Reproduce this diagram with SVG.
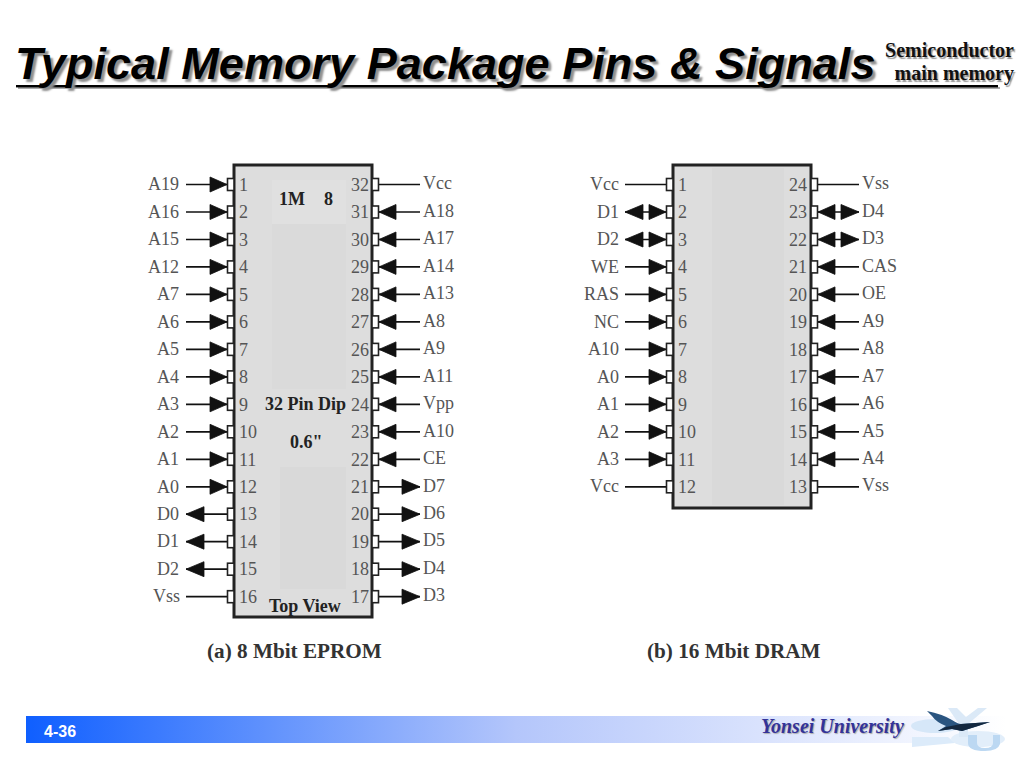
<svg xmlns="http://www.w3.org/2000/svg" xmlns:xlink="http://www.w3.org/1999/xlink" width="1024" height="768" viewBox="0 0 1024 768">
<style>
.title{font:italic bold 45.100px "Liberation Sans",Arial,sans-serif;fill:#000;text-shadow:3px 3px 2px #8f8f8f}
.sub{font:bold 20px "Liberation Serif","Times New Roman",serif;text-anchor:end;fill:#111;text-shadow:1.500px 1.500px 1px #999}
.l{font:18px "Liberation Serif","Times New Roman",serif;fill:#555}
.e{text-anchor:end}
.b{font:bold 18px "Liberation Serif","Times New Roman",serif;fill:#222}
.cap{font:bold 21.200px "Liberation Serif","Times New Roman",serif;fill:#333}
.w{stroke:#111;stroke-width:1.7;fill:none}
.p{stroke:#222;stroke-width:1.6;fill:#fff}
.h{fill:#111;stroke:#111;stroke-width:.8}
.chip{stroke:#222;stroke-width:3}
</style>
<defs>
<linearGradient id="bar" x1="0" x2="1" y1="0" y2="0"><stop offset="0" stop-color="#0f5fff"/><stop offset="0.5" stop-color="#b4c6fb"/><stop offset="1" stop-color="#ffffff"/></linearGradient>
<g id="L"><line class="w" x1="-48" x2="-6" y1="0" y2="0"/><rect class="p" x="-6.5" y="-6" width="6.5" height="12"/></g>
<g id="R"><line class="w" x1="6" x2="48" y1="0" y2="0"/><rect class="p" x="0" y="-6" width="6.5" height="12"/></g>
<polygon id="LI" class="h" points="-24,-7.500 -24,7.500 -7,0"/>
<polygon id="LO" class="h" points="-48,0 -30,-7.500 -30,7.500"/>
<polygon id="RI" class="h" points="24,-7.500 24,7.500 7,0"/>
<polygon id="RO" class="h" points="48,0 30,-7.500 30,7.500"/>
</defs>
<rect width="1024" height="768" fill="#fff"/>
<g id="header">
<rect x="18" y="87" width="982" height="2" fill="#aaa"/>
<rect x="16" y="85" width="982" height="2.400" fill="#000"/>
<text class="title" x="15" y="79">Typical Memory Package Pins &amp; Signals</text>
<text class="sub" x="1014" y="57">Semiconductor</text>
<text class="sub" x="1014" y="80">main memory</text>
</g>
<g id="eprom">
<rect class="chip" x="234" y="165" width="138" height="452" fill="#dddddd"/>
<rect x="272" y="180" width="74" height="44" fill="#e0e0e0"/>
<rect x="280" y="467" width="66" height="122" fill="#d9d9d9"/>
<rect x="272" y="224" width="74" height="165" fill="#dadada"/>
<g class="l" transform="translate(0 .6)">
<text x="239" y="190">1</text><text x="239" y="217">2</text><text x="239" y="245">3</text><text x="239" y="272">4</text><text x="239" y="300">5</text><text x="239" y="327">6</text><text x="239" y="355">7</text><text x="239" y="382">8</text><text x="239" y="410">9</text><text x="239" y="437">10</text><text x="239" y="465">11</text><text x="239" y="492">12</text><text x="239" y="519">13</text><text x="239" y="547">14</text><text x="239" y="574">15</text><text x="239" y="602">16</text>
<g class="e">
<text x="369" y="190">32</text><text x="369" y="217">31</text><text x="369" y="245">30</text><text x="369" y="272">29</text><text x="369" y="300">28</text><text x="369" y="327">27</text><text x="369" y="355">26</text><text x="369" y="382">25</text><text x="369" y="410">24</text><text x="369" y="437">23</text><text x="369" y="465">22</text><text x="369" y="492">21</text><text x="369" y="519">20</text><text x="369" y="547">19</text><text x="369" y="574">18</text><text x="369" y="602">17</text>
<text x="179" y="189">A19</text><text x="179" y="217">A16</text><text x="179" y="244">A15</text><text x="179" y="272">A12</text><text x="179" y="299">A7</text><text x="179" y="327">A6</text><text x="179" y="354">A5</text><text x="179" y="382">A4</text><text x="179" y="409">A3</text><text x="179" y="437">A2</text><text x="179" y="464">A1</text><text x="179" y="492">A0</text><text x="179" y="519">D0</text><text x="179" y="546">D1</text><text x="179" y="574">D2</text><text x="180" y="601">Vss</text>
</g>
<text x="423" y="188">Vcc</text><text x="423" y="216">A18</text><text x="423" y="243">A17</text><text x="423" y="271">A14</text><text x="423" y="298">A13</text><text x="423" y="326">A8</text><text x="423" y="353">A9</text><text x="423" y="381">A11</text><text x="423" y="408">Vpp</text><text x="423" y="436">A10</text><text x="423" y="463">CE</text><text x="423" y="491">D7</text><text x="423" y="518">D6</text><text x="423" y="545">D5</text><text x="423" y="573">D4</text><text x="423" y="600">D3</text>
</g>
<text class="b" x="279" y="205">1M</text><text class="b" x="324" y="205">8</text>
<text class="b" x="265" y="410">32 Pin Dip</text>
<text class="b" x="290" y="448">0.6"</text>
<text class="b" x="269" y="612">Top View</text>
<text class="cap" x="207" y="658">(a) 8 Mbit EPROM</text>
</g>
<g id="dram">
<rect class="chip" x="673" y="165" width="138" height="343" fill="#dddddd"/>
<rect x="712" y="168" width="72" height="337" fill="#d9d9d9"/>
<rect x="722" y="415" width="62" height="90" fill="#d9d9d9"/>
<g class="l" transform="translate(0 .6)">
<text x="678" y="190">1</text><text x="678" y="217">2</text><text x="678" y="245">3</text><text x="678" y="272">4</text><text x="678" y="300">5</text><text x="678" y="327">6</text><text x="678" y="355">7</text><text x="678" y="382">8</text><text x="678" y="410">9</text><text x="678" y="437">10</text><text x="678" y="465">11</text><text x="678" y="492">12</text>
<g class="e">
<text x="807" y="190">24</text><text x="807" y="217">23</text><text x="807" y="245">22</text><text x="807" y="272">21</text><text x="807" y="300">20</text><text x="807" y="327">19</text><text x="807" y="355">18</text><text x="807" y="382">17</text><text x="807" y="410">16</text><text x="807" y="437">15</text><text x="807" y="465">14</text><text x="807" y="492">13</text>
<text x="619" y="189">Vcc</text><text x="619" y="217">D1</text><text x="619" y="244">D2</text><text x="619" y="272">WE</text><text x="619" y="299">RAS</text><text x="619" y="327">NC</text><text x="619" y="354">A10</text><text x="619" y="382">A0</text><text x="619" y="409">A1</text><text x="619" y="437">A2</text><text x="619" y="464">A3</text><text x="619" y="491">Vcc</text>
</g>
<text x="862" y="188">Vss</text><text x="862" y="216">D4</text><text x="862" y="243">D3</text><text x="862" y="271">CAS</text><text x="862" y="298">OE</text><text x="862" y="326">A9</text><text x="862" y="353">A8</text><text x="862" y="381">A7</text><text x="862" y="408">A6</text><text x="862" y="436">A5</text><text x="862" y="463">A4</text><text x="862" y="490">Vss</text>
</g>
<text class="cap" x="647" y="658">(b) 16 Mbit DRAM</text>
</g>
<g id="connectors">
<g transform="translate(234 0)">
<use xlink:href="#L" y="184.500"/><use xlink:href="#L" y="212"/><use xlink:href="#L" y="239.500"/><use xlink:href="#L" y="266.900"/><use xlink:href="#L" y="294.400"/><use xlink:href="#L" y="321.900"/><use xlink:href="#L" y="349.400"/><use xlink:href="#L" y="376.900"/><use xlink:href="#L" y="404.300"/><use xlink:href="#L" y="431.800"/><use xlink:href="#L" y="459.300"/><use xlink:href="#L" y="486.800"/><use xlink:href="#L" y="514.200"/><use xlink:href="#L" y="541.700"/><use xlink:href="#L" y="569.200"/><use xlink:href="#L" y="596.700"/>
<use xlink:href="#LI" y="184.500"/><use xlink:href="#LI" y="212"/><use xlink:href="#LI" y="239.500"/><use xlink:href="#LI" y="266.900"/><use xlink:href="#LI" y="294.400"/><use xlink:href="#LI" y="321.900"/><use xlink:href="#LI" y="349.400"/><use xlink:href="#LI" y="376.900"/><use xlink:href="#LI" y="404.300"/><use xlink:href="#LI" y="431.800"/><use xlink:href="#LI" y="459.300"/><use xlink:href="#LI" y="486.800"/>
<use xlink:href="#LO" y="514.200"/><use xlink:href="#LO" y="541.700"/><use xlink:href="#LO" y="569.200"/>
</g>
<g transform="translate(372 0)">
<use xlink:href="#R" y="184.500"/><use xlink:href="#R" y="212"/><use xlink:href="#R" y="239.500"/><use xlink:href="#R" y="266.900"/><use xlink:href="#R" y="294.400"/><use xlink:href="#R" y="321.900"/><use xlink:href="#R" y="349.400"/><use xlink:href="#R" y="376.900"/><use xlink:href="#R" y="404.300"/><use xlink:href="#R" y="431.800"/><use xlink:href="#R" y="459.300"/><use xlink:href="#R" y="486.800"/><use xlink:href="#R" y="514.200"/><use xlink:href="#R" y="541.700"/><use xlink:href="#R" y="569.200"/><use xlink:href="#R" y="596.700"/>
<use xlink:href="#RI" y="212"/><use xlink:href="#RI" y="239.500"/><use xlink:href="#RI" y="266.900"/><use xlink:href="#RI" y="294.400"/><use xlink:href="#RI" y="321.900"/><use xlink:href="#RI" y="349.400"/><use xlink:href="#RI" y="376.900"/><use xlink:href="#RI" y="404.300"/><use xlink:href="#RI" y="431.800"/><use xlink:href="#RI" y="459.300"/>
<use xlink:href="#RO" y="486.800"/><use xlink:href="#RO" y="514.200"/><use xlink:href="#RO" y="541.700"/><use xlink:href="#RO" y="569.200"/><use xlink:href="#RO" y="596.700"/>
</g>
<g transform="translate(673 0)">
<use xlink:href="#L" y="184.500"/><use xlink:href="#L" y="212"/><use xlink:href="#L" y="239.500"/><use xlink:href="#L" y="266.900"/><use xlink:href="#L" y="294.400"/><use xlink:href="#L" y="321.900"/><use xlink:href="#L" y="349.400"/><use xlink:href="#L" y="376.900"/><use xlink:href="#L" y="404.300"/><use xlink:href="#L" y="431.800"/><use xlink:href="#L" y="459.300"/><use xlink:href="#L" y="486.800"/>
<use xlink:href="#LO" y="212"/><use xlink:href="#LO" y="239.500"/>
<use xlink:href="#LI" y="212"/><use xlink:href="#LI" y="239.500"/><use xlink:href="#LI" y="266.900"/><use xlink:href="#LI" y="294.400"/><use xlink:href="#LI" y="321.900"/><use xlink:href="#LI" y="349.400"/><use xlink:href="#LI" y="376.900"/><use xlink:href="#LI" y="404.300"/><use xlink:href="#LI" y="431.800"/><use xlink:href="#LI" y="459.300"/>
</g>
<g transform="translate(811 0)">
<use xlink:href="#R" y="184.500"/><use xlink:href="#R" y="212"/><use xlink:href="#R" y="239.500"/><use xlink:href="#R" y="266.900"/><use xlink:href="#R" y="294.400"/><use xlink:href="#R" y="321.900"/><use xlink:href="#R" y="349.400"/><use xlink:href="#R" y="376.900"/><use xlink:href="#R" y="404.300"/><use xlink:href="#R" y="431.800"/><use xlink:href="#R" y="459.300"/><use xlink:href="#R" y="486.800"/>
<use xlink:href="#RO" y="212"/><use xlink:href="#RO" y="239.500"/>
<use xlink:href="#RI" y="212"/><use xlink:href="#RI" y="239.500"/><use xlink:href="#RI" y="266.900"/><use xlink:href="#RI" y="294.400"/><use xlink:href="#RI" y="321.900"/><use xlink:href="#RI" y="349.400"/><use xlink:href="#RI" y="376.900"/><use xlink:href="#RI" y="404.300"/><use xlink:href="#RI" y="431.800"/><use xlink:href="#RI" y="459.300"/>
</g>
</g>
<g id="footer">
<rect x="26" y="716" width="980" height="27" fill="url(#bar)"/>
<text x="44" y="737" font-family="'Liberation Sans',Arial,sans-serif" font-weight="bold" font-size="16" fill="#fff">4-36</text>
<text x="761" y="733" font-family="'Liberation Serif','Times New Roman',serif" font-weight="bold" font-style="italic" font-size="20" fill="#333399" style="text-shadow:1px 1px 1px #aaa">Yonsei University</text>
</g>
<g id="logo">
<ellipse cx="935" cy="726" rx="24" ry="7" fill="#d6e7f8"/>
<path d="M912 737H948L955 743L912 747Z" fill="#dcebfa"/>
<ellipse cx="978" cy="739" rx="27" ry="8" fill="#e2eefa"/>
<path d="M968 735H977V743Q977 748 985 748Q993 748 993 743V735H1000V744Q998 751 985 751Q968 751 968 743Z" fill="#bcd8f2"/>
<path d="M948 708H957L966 717L978 708H987L968 724V737H959V724Z" fill="#dbe9f7"/>
<path d="M927 711Q942 714 952 720Q958 724 961 724L990 722L978 726L962 731L952 729L938 731L946 726Q936 722 932 716Z" fill="#2a5580"/>
<path d="M961 724L990 722L978 726L962 731L952 729L938 731L946 727Z" fill="#14283f"/>
</g>
</svg>
